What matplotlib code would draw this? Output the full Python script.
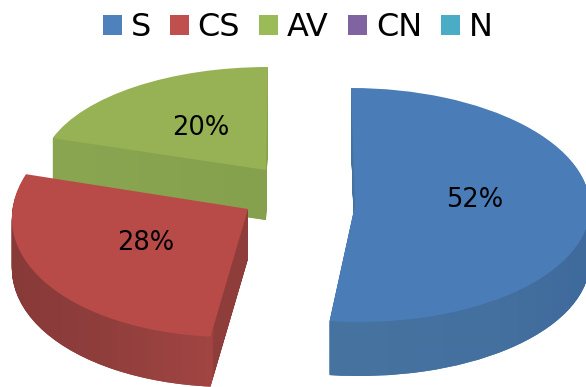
import numpy as np
import matplotlib
matplotlib.use('Agg')
import matplotlib.pyplot as plt
from matplotlib.colors import to_rgb
from matplotlib.patches import Patch, PathPatch
from matplotlib.path import Path
from matplotlib.transforms import Affine2D

labels = ['S', 'CS', 'AV', 'CN', 'N']
shares = [52, 28, 20, 0, 0]
legend_colors = ['#4f81bd', '#c0504d', '#9bbb59', '#8064a2', '#4bacc6']
top_colors = ['#4a7db8', '#b84b48', '#97b254', '#8064a2', '#4bacc6']
side_colors = ['#44709f', '#963d3b', '#87a24e', '#6a5387', '#3e90a6']

# where each exploded slice sits in the picture:
# cx, cy, rx, ry, depth, x shear, y shear (pixels per unit radius)
slice_geom = {
    0: (355, 205, 235, 117, 54, -4, 0),
    1: (248, 209, 236, 128, 50, 8, -5),
    2: (266, 170, 225, 103, 50, 2, 0),
}
# colour of the side wall from left to right
side_stops = {
    0: [(331, '#46739f'), (500, '#44709f'), (586, '#3f6a9c')],
    1: [(11, '#883a39'), (100, '#8f3e3c'), (211, '#a24543'), (214, '#8f3d3b'), (250, '#903e3c')],
    2: [(52, '#8aa651'), (266, '#86a14e')],
}
draw_order = [2, 1, 0]
pct_pos = {0: (475, 200), 1: (146, 243), 2: (201, 128)}

fig = plt.figure(figsize=(5.86, 3.87), dpi=100)
ax = fig.add_axes([0, 0, 1, 1])


def slice_transform(idx, d):
    cx, cy, rx, ry, depth, kx, ky = slice_geom[idx]
    m = [[rx, kx, cx], [ky, -ry, cy + d], [0, 0, 1]]
    return Affine2D(np.array(m, dtype=float))


zo = 1
for idx in draw_order:
    depth = slice_geom[idx][4]
    paths = []
    for d in range(depth, -1, -1):
        wedges, _ = ax.pie(shares, startangle=90, counterclock=False, radius=1,
                           colors=top_colors if d == 0 else side_colors,
                           wedgeprops={'linewidth': 0})
        for i, w in enumerate(wedges):
            if i != idx:
                w.remove()
                continue
            tr = slice_transform(idx, d)
            w.set_transform(w.get_patch_transform() + tr + ax.transData)
            w.set_zorder(zo + 2 if d == 0 else zo)
            if d > 0:
                paths.append((w.get_patch_transform() + tr).transform_path(w.get_path()))
    # horizontal shading of the side wall
    xs = np.arange(0, 587)
    stops = side_stops[idx]
    rgb = np.array([to_rgb(c) for _, c in stops])
    grad = np.stack([np.interp(xs, [s[0] for s in stops], rgb[:, k]) for k in range(3)], axis=1)
    im = ax.imshow(grad[np.newaxis, :, :], extent=(0, 587, 387, 0), aspect='auto',
                   zorder=zo + 1, interpolation='bilinear')
    im.set_clip_path(PathPatch(Path.make_compound_path(*paths), transform=ax.transData))
    zo += 3

ax.set_aspect('auto')
ax.set_xlim(0, 586)
ax.set_ylim(387, 0)
ax.axis('off')

for idx, (x, y) in pct_pos.items():
    ax.text(x, y, '%d%%' % shares[idx], fontsize=18.5, ha='center', va='center', color='black', zorder=zo + 1)

handles = [Patch(facecolor=c, label=l) for c, l in zip(legend_colors, labels)]
fig.legend(handles=handles, loc='upper center', bbox_to_anchor=(0.508, 1.043), ncol=5, frameon=False,
           fontsize=23, handlelength=0.6, handleheight=0.6, handletextpad=0.27, columnspacing=0.6)

fig.savefig('out.png', dpi=100)
